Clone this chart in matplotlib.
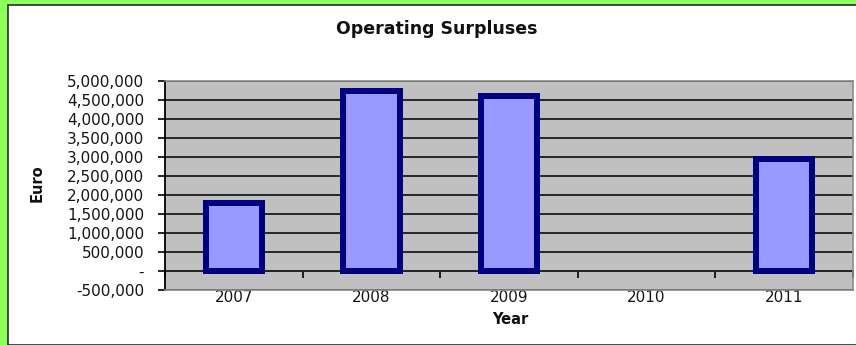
import numpy as np
import matplotlib
matplotlib.use("Agg")
import matplotlib.pyplot as plt
from matplotlib.patches import Rectangle
from matplotlib.ticker import FuncFormatter, MultipleLocator

# Operating surpluses by year (euro); no figure reported for 2010
years = ["2007", "2008", "2009", "2010", "2011"]
surplus = [1_780_000, 4_735_000, 4_610_000, np.nan, 2_960_000]

y_min, y_max, y_step = -500_000, 5_000_000, 500_000

plt.rcParams["font.family"] = ["DejaVu Sans"]

W, H = 856, 345
fig = plt.figure(figsize=(W / 100, H / 100), dpi=100)
fig.patch.set_facecolor("#8CFF5A")

# white chart area with a dark frame inside the green surround
fig.patches.append(Rectangle((8 / W, 0), (W - 8 + 4) / W, (H - 5) / H,
                             transform=fig.transFigure, facecolor="white",
                             edgecolor="#2a2a2a", linewidth=1.2, zorder=-5))

ax = fig.add_axes([165 / W, 1 - 290 / H, 688 / W, 209 / H])
ax.set_zorder(2)
ax.set_facecolor("#C0C0C0")

x = np.arange(len(years))
ax.bar(x, surplus, width=0.41, color="#9999FF", edgecolor="#000080",
       linewidth=4.3, zorder=3)

ax.set_xlim(-0.5, len(years) - 0.5)
ax.set_ylim(y_min, y_max)

# horizontal gridlines
ax.yaxis.set_major_locator(MultipleLocator(y_step))
ax.grid(axis="y", color="#262626", linewidth=1.4, zorder=1)
ax.set_axisbelow(True)

def euro_fmt(v, pos):
    if abs(v) < 1:
        return "-"
    return f"{v:,.0f}"

ax.yaxis.set_major_formatter(FuncFormatter(euro_fmt))
ax.tick_params(axis="y", direction="out", length=5, width=1.2, color="black",
               labelsize=11, pad=10, labelcolor="#151515")

# category labels under the plot frame
ax.set_xticks(x)
ax.set_xticklabels(years)
ax.tick_params(axis="x", length=0, labelsize=11, pad=0, labelcolor="#151515")

for side in ("top", "right", "bottom"):
    ax.spines[side].set_color("#8a8a8a")
    ax.spines[side].set_linewidth(1.2)
ax.spines["left"].set_color("black")
ax.spines["left"].set_linewidth(1.3)

# category axis drawn through zero with ticks between the years
zero_frac = (0 - y_min) / (y_max - y_min)
sec = ax.secondary_xaxis(zero_frac)
sec.set_xticks(np.arange(len(years) + 1) - 0.5)
sec.set_xticklabels([])
sec.tick_params(axis="x", direction="out", length=5, width=1.2,
                color="black", labelbottom=False, labeltop=False,
                bottom=True, top=False)
sec.spines["bottom"].set_color("black")
sec.spines["bottom"].set_linewidth(1.3)
sec.spines["top"].set_visible(False)
sec.xaxis.set_ticks_position("bottom")

fig.text(437 / W, 1 - 29 / H, "Operating Surpluses", ha="center",
         va="center", fontsize=12.5, fontweight="bold", color="#111111")
fig.text(37 / W, 1 - 183 / H, "Euro", ha="center", va="center",
         rotation=90, fontsize=10.5, fontweight="bold", color="#111111")
fig.text(510 / W, 1 - 320 / H, "Year", ha="center", va="center",
         fontsize=10.5, fontweight="bold", color="#111111")

fig.savefig("out.png", dpi=100, facecolor=fig.get_facecolor())
